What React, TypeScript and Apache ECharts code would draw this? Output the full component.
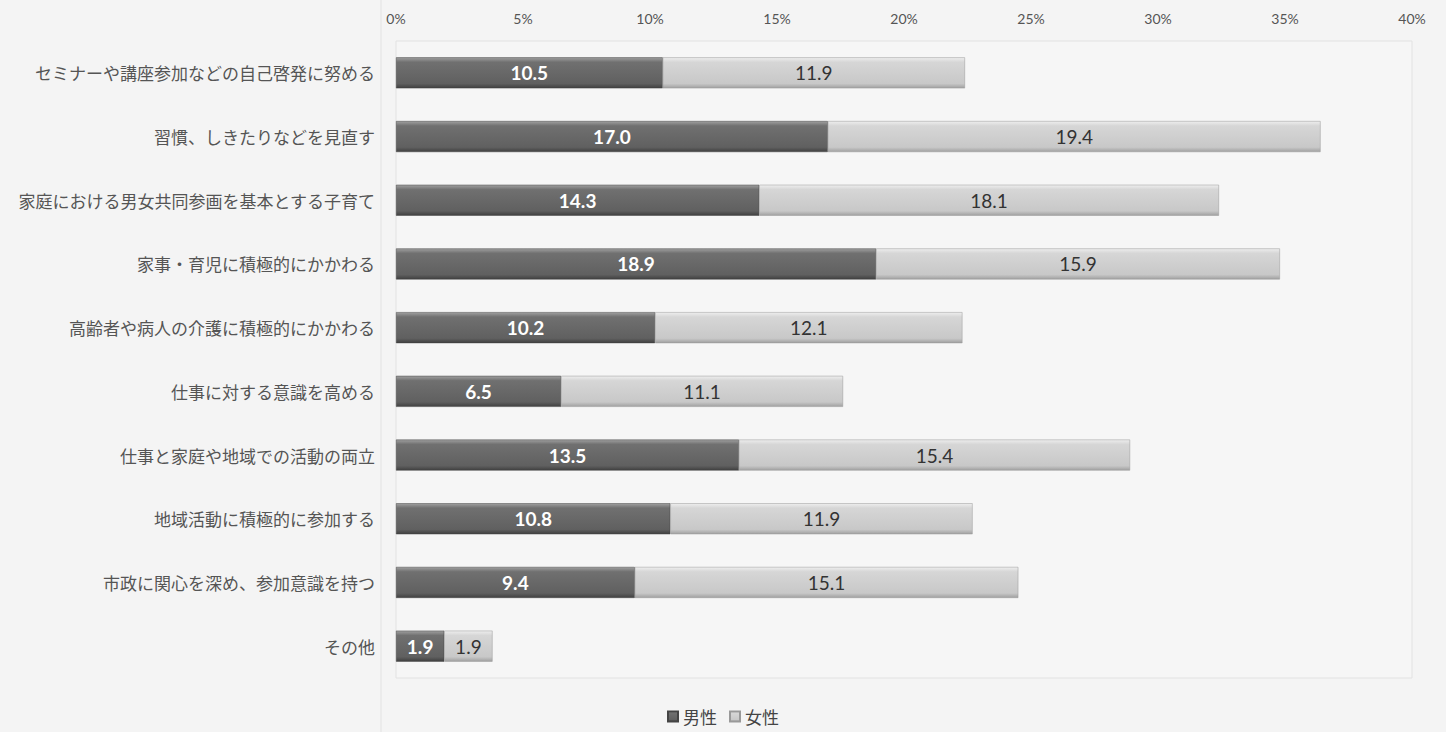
import React, { useEffect, useRef } from "react";
import * as echarts from "echarts";

const categories = [
  "セミナーや講座参加などの自己啓発に努める",
  "習慣、しきたりなどを見直す",
  "家庭における男女共同参画を基本とする子育て",
  "家事・育児に積極的にかかわる",
  "高齢者や病人の介護に積極的にかかわる",
  "仕事に対する意識を高める",
  "仕事と家庭や地域での活動の両立",
  "地域活動に積極的に参加する",
  "市政に関心を深め、参加意識を持つ",
  "その他",
];
const maleValues = [10.5, 17.0, 14.3, 18.9, 10.2, 6.5, 13.5, 10.8, 9.4, 1.9];
const femaleValues = [11.9, 19.4, 18.1, 15.9, 12.1, 11.1, 15.4, 11.9, 15.1, 1.9];
const seriesNames = ["男性", "女性"];

export default function App() {
  const ref = useRef<HTMLDivElement>(null);
  useEffect(() => {
    if (!ref.current) return;
    const chart = echarts.init(ref.current, undefined, { renderer: "svg" });
    const cjk = '"Noto Sans CJK JP", sans-serif';
    const num = 'Lato, "Open Sans", sans-serif';
    const maleGrad = new echarts.graphic.LinearGradient(0, 0, 0, 1, [
      { offset: 0, color: "#a0a0a0" },
      { offset: 0.15, color: "#707070" },
      { offset: 0.85, color: "#606060" },
      { offset: 1, color: "#404040" },
    ]);
    const femaleGrad = new echarts.graphic.LinearGradient(0, 0, 0, 1, [
      { offset: 0, color: "#eeeeee" },
      { offset: 0.15, color: "#d6d6d6" },
      { offset: 0.85, color: "#c8c8c8" },
      { offset: 1, color: "#a0a0a0" },
    ]);
    chart.setOption({
      animation: false,
      backgroundColor: "#f4f4f4",
      grid: {
        left: 396,
        right: 34,
        top: 41,
        bottom: 54,
        show: true,
        borderColor: "#e2e2e2",
        borderWidth: 1,
        backgroundColor: "#f6f6f6",
      },
      legend: {
        bottom: 2,
        left: "center",
        itemWidth: 10,
        itemHeight: 10,
        itemGap: 12,
        icon: "rect",
        textStyle: { fontFamily: cjk, fontSize: 17, color: "#444" },
        data: seriesNames,
      },
      graphic: [
        {
          type: "line",
          shape: { x1: 381, y1: 0, x2: 381, y2: 732 },
          style: { stroke: "#e2e2e2", lineWidth: 1 },
          silent: true,
        },
      ],
      xAxis: {
        type: "value",
        position: "top",
        min: 0,
        max: 40,
        interval: 5,
        axisLine: { show: false },
        axisTick: { show: false },
        splitLine: { show: false },
        axisLabel: {
          formatter: "{value}%",
          color: "#555",
          fontSize: 14,
          fontFamily: num,
          margin: 16,
        },
      },
      yAxis: {
        type: "category",
        inverse: true,
        data: categories,
        axisLine: { show: false },
        axisTick: { show: false },
        axisLabel: {
          color: "#555",
          fontSize: 17,
          fontFamily: cjk,
          margin: 21,
        },
      },
      series: [
        {
          name: seriesNames[0],
          type: "bar",
          stack: "total",
          data: maleValues,
          barWidth: 31,
          itemStyle: { color: maleGrad, borderColor: "#444", borderWidth: 0.5 },
          label: {
            show: true,
            position: "inside",
            formatter: (p: any) => p.value.toFixed(1),
            color: "#fff",
            fontSize: 19,
            fontWeight: "bold",
            fontFamily: num,
          },
        },
        {
          name: seriesNames[1],
          type: "bar",
          stack: "total",
          data: femaleValues,
          barWidth: 31,
          itemStyle: { color: femaleGrad, borderColor: "#999", borderWidth: 0.5 },
          label: {
            show: true,
            position: "inside",
            formatter: (p: any) => p.value.toFixed(1),
            color: "#333",
            fontSize: 19,
            fontFamily: num,
          },
        },
      ],
    });
    return () => chart.dispose();
  }, []);
  return (
    <div
      ref={ref}
      style={{ position: "fixed", left: 0, top: 0, width: 1446, height: 732 }}
    />
  );
}
